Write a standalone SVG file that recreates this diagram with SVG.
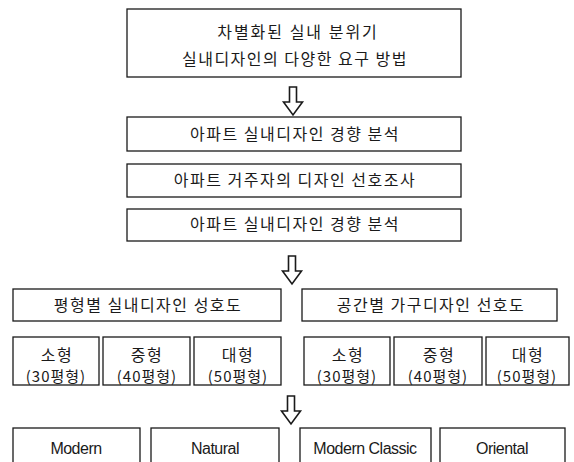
<svg xmlns="http://www.w3.org/2000/svg" width="574" height="462" viewBox="0 0 574 462">
<defs>
<style>
.box{fill:#fff;stroke:#1a1a1a;stroke-width:1.3}
.ko{font-family:"Noto Sans CJK KR","Noto Sans",sans-serif;font-size:16px;fill:#1a1a1a;text-anchor:middle;letter-spacing:1.5px}
.ks{font-family:"Noto Sans CJK KR","Noto Sans",sans-serif;font-size:15px;fill:#1a1a1a;text-anchor:middle;letter-spacing:1px}
.en{font-family:"Liberation Sans",Arial,sans-serif;font-size:16px;fill:#1a1a1a;text-anchor:middle;letter-spacing:-0.5px}
.arr{fill:#fff;stroke:#1a1a1a;stroke-width:1.6;stroke-linejoin:miter}
</style>
<path id="harrow" d="M-3.5,0 H3.5 V15 H9.5 L0,28 L-9.5,15 H-3.5 Z"/>
</defs>
<rect width="574" height="462" fill="#fff"/>

<g id="connectors">
<use href="#harrow" class="arr" transform="translate(293,87)"/>
<use href="#harrow" class="arr" transform="translate(292,256)"/>
<use href="#harrow" class="arr" transform="translate(291,396)"/>
</g>

<g id="n-top">
<rect class="box" x="127" y="9" width="334" height="68"/>
<text class="ko" x="298" y="38" style="letter-spacing:2px">차별화된 실내 분위기</text>
<text class="ko" x="295" y="65">실내디자인의 다양한 요구 방법</text>
</g>

<g id="n-trend1">
<rect class="box" x="127" y="117" width="334" height="34"/>
<text class="ko" x="295" y="140">아파트 실내디자인 경향 분석</text>
</g>
<g id="n-pref">
<rect class="box" x="127" y="164" width="334" height="33"/>
<text class="ko" x="295" y="186">아파트 거주자의 디자인 선호조사</text>
</g>
<g id="n-trend2">
<rect class="box" x="127" y="209" width="334" height="32"/>
<text class="ko" x="295" y="230">아파트 실내디자인 경향 분석</text>
</g>

<g id="n-left-head">
<rect class="box" x="13" y="289" width="268" height="32"/>
<text class="ko" x="148" y="311">평형별 실내디자인 성호도</text>
</g>
<g id="n-right-head">
<rect class="box" x="302" y="289" width="255" height="32"/>
<text class="ko" x="431" y="311">공간별 가구디자인 선호도</text>
</g>

<g id="n-l-small">
<rect class="box" x="13" y="337" width="86" height="48"/>
<text class="ko" x="57" y="361">소형</text>
<text class="ks" x="56" y="382">(30평형)</text>
</g>
<g id="n-l-mid">
<rect class="box" x="103" y="337" width="87" height="48"/>
<text class="ko" x="147" y="361">중형</text>
<text class="ks" x="147" y="382">(40평형)</text>
</g>
<g id="n-l-large">
<rect class="box" x="194" y="337" width="87" height="48"/>
<text class="ko" x="238" y="361">대형</text>
<text class="ks" x="238" y="382">(50평형)</text>
</g>

<g id="n-r-small">
<rect class="box" x="304" y="337" width="86" height="48"/>
<text class="ko" x="348" y="361">소형</text>
<text class="ks" x="347" y="382">(30평형)</text>
</g>
<g id="n-r-mid">
<rect class="box" x="394" y="337" width="88" height="48"/>
<text class="ko" x="439" y="361">중형</text>
<text class="ks" x="438" y="382">(40평형)</text>
</g>
<g id="n-r-large">
<rect class="box" x="486" y="337" width="83" height="48"/>
<text class="ko" x="528" y="361">대형</text>
<text class="ks" x="527" y="382">(50평형)</text>
</g>

<g id="n-modern">
<rect class="box" x="13" y="428" width="127" height="44"/>
<text class="en" x="76" y="454">Modern</text>
</g>
<g id="n-natural">
<rect class="box" x="151" y="428" width="128" height="44"/>
<text class="en" x="215" y="454">Natural</text>
</g>
<g id="n-classic">
<rect class="box" x="300" y="428" width="131" height="44"/>
<text class="en" x="365" y="454">Modern Classic</text>
</g>
<g id="n-oriental">
<rect class="box" x="440" y="428" width="125" height="44"/>
<text class="en" x="502" y="454">Oriental</text>
</g>
</svg>
